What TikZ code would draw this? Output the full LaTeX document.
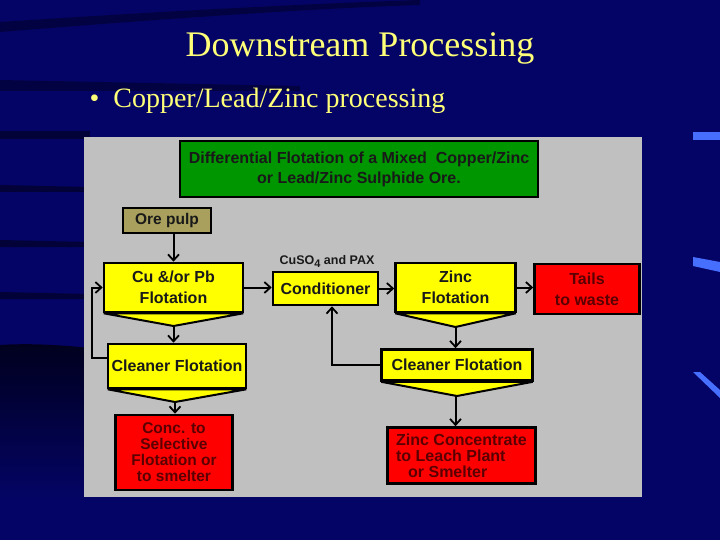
\documentclass[tikz,border=0pt]{standalone}
\usepackage{fontspec}
\setmainfont{Liberation Serif}
\newfontfamily\boxfont{Liberation Sans}
\usetikzlibrary{arrows.meta,calc}
\definecolor{bgblue}{RGB}{4,4,102}
\definecolor{panelgray}{RGB}{192,192,192}
\definecolor{headgreen}{RGB}{0,150,0}
\definecolor{olivebox}{RGB}{168,160,92}
\definecolor{boxyellow}{RGB}{255,255,0}
\definecolor{boxred}{RGB}{255,0,0}
\definecolor{redtext}{RGB}{90,0,0}
\definecolor{titleyellow}{RGB}{255,255,120}
\definecolor{barblue}{RGB}{70,110,255}
\tikzset{
  flowbox/.style={draw=black, line width=2.6pt, inner sep=1pt, align=center,
    font=\boxfont\bfseries\fontsize{16}{17}\selectfont, text=black!90},
  ybox/.style={flowbox, fill=boxyellow},
  rbox/.style={flowbox, fill=boxred, text=redtext},
  chev/.style={draw=black, line width=2pt, fill=boxyellow, line join=bevel},
  arr/.style={draw=black, line width=2pt, -{Straight Barb[length=6pt,width=11pt,line width=1.8pt]}},
}
\begin{document}
\begin{tikzpicture}[x=1pt,y=-1pt]
\useasboundingbox (0,0) rectangle (720,540);
% background
\fill[bgblue] (0,0) rectangle (720,540);
\fill[black, opacity=0.35] (0,22) .. controls (150,12) and (300,4) .. (420,0) -- (420,5) .. controls (300,9) and (150,20) .. (0,32) -- cycle;
\fill[black, opacity=0.35] (0,80) .. controls (100,82) and (200,84) .. (300,86) -- (300,91) .. controls (200,91) and (100,91) .. (0,91) -- cycle;
\fill[black, opacity=0.45] (0,131) -- (90,131) -- (90,139) -- (0,139) -- cycle;
\fill[black, opacity=0.45] (0,185) -- (90,187) -- (90,192) -- (0,192) -- cycle;
\fill[black, opacity=0.45] (0,240) -- (90,242) -- (90,247) -- (0,247) -- cycle;
\fill[black, opacity=0.45] (0,292) -- (90,294) -- (90,299) -- (0,299) -- cycle;
\shade[top color=black, bottom color=bgblue, opacity=0.7] (0,345) .. controls (30,343) and (60,345) .. (90,348) -- (90,500) -- (0,500) -- cycle;
\fill[barblue] (693,132) rectangle (720,140);
\fill[barblue] (693,257) -- (720,262) -- (720,272) -- (693,266) -- cycle;
\fill[barblue] (693,372) -- (700,372) -- (720,390) -- (720,398) -- cycle;
% title
\node (title) at (360,48) {\fontsize{36}{40}\selectfont\color{titleyellow}Downstream Processing};
\node[anchor=west] (bullet) at (86,101) {\fontsize{28}{32}\selectfont\color{titleyellow}\textbullet\hspace{14pt}Copper/Lead/Zinc processing};
% panel
\fill[panelgray] (84,137) rectangle (642,497);
% boxes
\node[flowbox, fill=headgreen, minimum width=358pt, minimum height=56pt, font=\boxfont\bfseries\fontsize{16}{20}\selectfont] (head) at (359,169) {Differential Flotation of a Mixed\ \ Copper/Zinc\\or Lead/Zinc Sulphide Ore.};
\node[flowbox, fill=olivebox, minimum width=88pt, minimum height=25pt, font=\boxfont\bfseries\fontsize{15.5}{17}\selectfont] (ore) at (167,220.5) {Ore pulp};
\node[ybox, minimum width=139pt, minimum height=49pt, font=\boxfont\bfseries\fontsize{16}{21}\selectfont] (cu) at (173.5,287.5) {Cu \&/or Pb\\Flotation};
\node[ybox, minimum width=138pt, minimum height=44pt] (clL) at (177,366) {Cleaner Flotation};
\node[rbox, minimum width=117pt, minimum height=75pt, font=\boxfont\bfseries\fontsize{15.5}{16}\selectfont] (concL) at (174,452.5) {Conc. to\\Selective\\Flotation or\\to smelter};
\node[ybox, minimum width=105pt, minimum height=33pt] (cond) at (325.5,288.5) {Conditioner};
\node[font=\boxfont\bfseries\fontsize{12.5}{13}\selectfont, text=black!90] (reag) at (327,261) {CuSO\raisebox{-3pt}{\fontsize{11}{12}\selectfont 4}\ and PAX};
\node[ybox, minimum width=120pt, minimum height=49pt, font=\boxfont\bfseries\fontsize{16}{21}\selectfont] (zn) at (455.5,287.5) {Zinc\\Flotation};
\node[rbox, minimum width=105pt, minimum height=50pt, font=\boxfont\bfseries\fontsize{16}{21}\selectfont] (tails) at (587,289) {Tails\\to waste};
\node[ybox, minimum width=151pt, minimum height=31pt] (clR) at (457,365) {Cleaner Flotation};
\node[rbox, minimum width=148pt, minimum height=56pt, align=left, font=\boxfont\bfseries\fontsize{16}{16}\selectfont] (concR) at (461.5,455.5) {Zinc Concentrate\\to Leach Plant\\\hspace{12pt}or Smelter};
% chevrons
\coordinate (cuTip) at (173.5,326);
\coordinate (clLTip) at (175,402);
\coordinate (znTip) at (455.5,327);
\coordinate (clRTip) at (457,396);
\filldraw[chev] ([xshift=1pt]cu.south west) -- ([xshift=-1pt]cu.south east) -- (cuTip) -- cycle;
\filldraw[chev] ([xshift=1pt]clL.south west) -- ([xshift=-1pt]clL.south east) -- (clLTip) -- cycle;
\filldraw[chev] ([xshift=1pt]zn.south west) -- ([xshift=-1pt]zn.south east) -- (znTip) -- cycle;
\filldraw[chev] ([xshift=1pt]clR.south west) -- ([xshift=-1pt]clR.south east) -- (clRTip) -- cycle;
% connectors
\draw[arr] (ore.south -| cu) -- (cu.north);
\draw[arr] (cuTip) -- (cuTip |- clL.north);
\draw[arr] (clLTip) -- (clLTip |- concL.north);
\draw[arr] ($(clL.west)+(0,-8)$) -- (92,358) |- (cu.west);
\draw[arr] (cu.east) -- (cu.east -| cond.west);
\draw[arr] (cond.east) -- (cond.east -| zn.west);
\draw[arr] (zn.east) -- (zn.east -| tails.west);
\draw[arr] (znTip) -- (znTip |- clR.north);
\draw[arr] (znTip |- clRTip) -- (znTip |- concR.north);
\draw[arr] (clR.west) -| ($(cond.south)+(6.5,0)$);
\end{tikzpicture}
\end{document}
